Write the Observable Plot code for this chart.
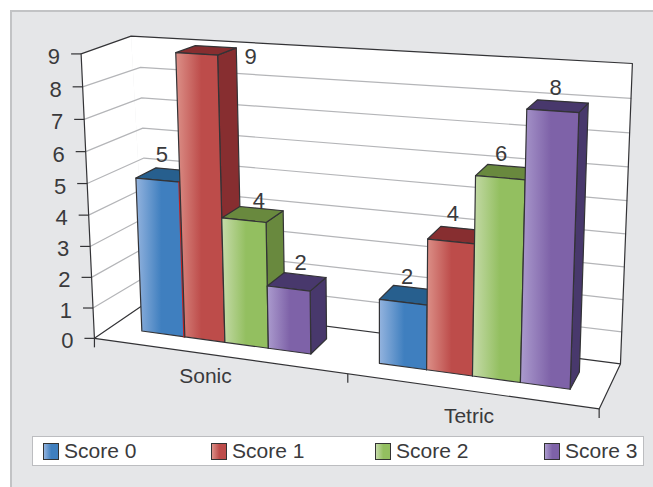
<!DOCTYPE html>
<html>
<head>
<meta charset="utf-8">
<script src="https://cdn.jsdelivr.net/npm/d3@7"></script>
<script src="https://cdn.jsdelivr.net/npm/@observablehq/plot@0.6"></script>
<style>
  html, body { margin: 0; background: #fff; }
  body { position: relative; width: 653px; height: 487px; overflow: hidden; font-family: "Liberation Sans", Arial, sans-serif; color: #3a3a3c; }
  #panel { position: absolute; left: 10px; top: 10px; right: 0; bottom: 0; background: #e5e6e8; border-left: 2px solid #c2c3c5; border-top: 2px solid #c2c3c5; }
  #chart { position: absolute; left: 0; top: 0; }
  #legend { position: absolute; left: 32px; top: 436px; width: 610px; height: 28px; background: #fff; border: 1.5px solid #bcbdc0; }
  .entry { position: absolute; top: 0; height: 28px; display: flex; align-items: center; font-size: 21px; white-space: pre; }
  .swatch { width: 14px; height: 15px; margin-right: 5px; border: 1px solid #333; }
</style>
</head>
<body>
<div id="panel"></div>
<div id="chart"></div>
<div id="legend"></div>
<script>
// Scores per group
const categories = ["Sonic", "Tetric"];
const seriesNames = ["Score 0", "Score 1", "Score 2", "Score 3"];
const score0 = [5, 2];
const score1 = [9, 4];
const score2 = [4, 6];
const score3 = [2, 8];
const valueTicks = [0, 1, 2, 3, 4, 5, 6, 7, 8, 9];

const seriesValues = [score0, score1, score2, score3];
const maxValue = 9;

// Series colours: front gradient [light, full], shaded top and side
const palette = [
  {id: "blue", light: "#93b3de", full: "#3f7fbf", dark: "#275f8e"},
  {id: "red", light: "#dc9088", full: "#bd4c4a", dark: "#872e30"},
  {id: "green", light: "#c6dbaa", full: "#93bf60", dark: "#69893e"},
  {id: "purple", light: "#ab9bce", full: "#7e62a8", dark: "#48386c"}
];

// Perspective camera of the 3-D box: u along the categories, v up the value axis, w into the depth
const cam = [430.52252, -16.92722, 61.7264, 93.9345, 19.97694, -286.82386, -14.24596, 337.85569, -0.12393, -0.04465, 0.06945];
function project(u, value, w) {
  const v = value / maxValue;
  const d = cam[8] * u + cam[9] * v + cam[10] * w + 1;
  return {
    x: (cam[0] * u + cam[1] * v + cam[2] * w + cam[3]) / d,
    y: (cam[4] * u + cam[5] * v + cam[6] * w + cam[7]) / d
  };
}

// Bar edges along the category axis and the bars' depth span
const barEdges = [[0.0697, 0.1658, 0.2533, 0.3461, 0.4347], [0.5737, 0.6666, 0.7546, 0.8445, 0.9355]];
const depthFront = 0.3116;
const depthBack = 0.7011;

// Where the rim and the gridlines turn from the side wall onto the back wall
const rimCorner = -0.011;
const gridCorner = 0.008;

// Shift of each value label from the top front centre of its bar
const labelShift = [
  [[4, -25], [54, 3], [15, -19], [12, -26]],
  [[4, -25], [2, -27], [1, -24], [3, -23]]
];

const face = (...corners) => corners.map(([u, v, w]) => project(u, v, w));

const wall = {fill: "#fff", stroke: "none", curve: "linear-closed", x: "x", y: "y"};
const edge = {stroke: "#333336", strokeWidth: 1.2, x: "x", y: "y"};

const frameMarks = [
  Plot.line(face([0, 0, 0], [0, maxValue, 0], [rimCorner, maxValue, 1], [0, 0, 1]), wall),
  Plot.line(face([0, 0, 1], [rimCorner, maxValue, 1], [1, maxValue, 1], [1, 0, 1]), wall),
  Plot.line(face([0, 0, 0], [0, 0, 1], [1, 0, 1], [1, 0, 0]), wall),
  ...valueTicks.filter((v) => v > 0 && v < maxValue).map((v) =>
    Plot.line(face([0, v, 0], [gridCorner, v, 1], [1, v, 1]), {x: "x", y: "y", stroke: "#b4b5b8", strokeWidth: 1.2})
  ),
  Plot.line(face([0, 0, 0], [0, maxValue, 0], [rimCorner, maxValue, 1], [1, maxValue, 1], [1, 0, 1], [1, 0, 0], [0, 0, 0], [0, 0, 1], [1, 0, 1]), edge)
];

const barMarks = [];
const labels = [];
categories.forEach((category, c) => {
  seriesValues.forEach((values, s) => {
    const value = values[c];
    const u0 = barEdges[c][s];
    const u1 = barEdges[c][s + 1];
    const look = palette[s];
    const outline = {x: "x", y: "y", stroke: "#333336", strokeWidth: 1.2, strokeLinejoin: "round", curve: "linear-closed"};
    // The tallest bar leaves a thin bright seam against its left neighbour
    if (c === 0 && s === 1) {
      barMarks.push(Plot.line(face([u0, score0[c], depthFront], [u0, 0, depthFront]), {x: "x", y: "y", dx: -1, stroke: "#c4201f", strokeWidth: 1.2}));
    }
    barMarks.push(
      Plot.line(face([u1, 0, depthFront], [u1, value, depthFront], [u1, value, depthBack], [u1, 0, depthBack]), {...outline, fill: look.dark}),
      Plot.line(face([u0, value, depthFront], [u0, value, depthBack], [u1, value, depthBack], [u1, value, depthFront]), {...outline, fill: look.dark}),
      Plot.line(face([u0, 0, depthFront], [u0, value, depthFront], [u1, value, depthFront], [u1, 0, depthFront]), {...outline, fill: `url(#grad-${look.id})`})
    );
    const top = project((u0 + u1) / 2, value, depthFront);
    labels.push({x: top.x + labelShift[c][s][0], y: top.y + labelShift[c][s][1], text: String(value)});
  });
});

// Value axis on the front left edge, category boundaries on the front floor edge
const axisPoints = valueTicks.map((v) => ({v, ...project(0, v, 0)}));
const boundaryPoints = [0, 0.535, 1].map((u) => project(u, 0, 0));
const categoryPoints = categories.map((name, i) => ({name, ...project(0.25 + i * 0.5, 0, 0), dx: [-3, 9][i], dy: [22, 27][i]}));

const gradients = () => {
  const defs = d3.create("svg:defs");
  palette.forEach((p) => {
    const g = defs.append("linearGradient").attr("id", `grad-${p.id}`).attr("x1", 0).attr("x2", 1).attr("y1", 0).attr("y2", 0);
    g.append("stop").attr("offset", "0%").attr("stop-color", p.light);
    g.append("stop").attr("offset", "52%").attr("stop-color", p.full);
    g.append("stop").attr("offset", "100%").attr("stop-color", p.full);
  });
  return defs.node();
};

const chart = Plot.plot({
  width: 653,
  height: 430,
  margin: 0,
  x: {domain: [0, 653], range: [0, 653], axis: null},
  y: {domain: [0, 430], range: [0, 430], axis: null},
  style: {background: "transparent", fontFamily: "'Liberation Sans', Arial, sans-serif", color: "#3a3a3c", overflow: "visible"},
  marks: [
    gradients,
    ...frameMarks,
    Plot.link(axisPoints, {x1: (d) => d.x - 10, y1: "y", x2: "x", y2: "y", stroke: "#333336", strokeWidth: 1.2}),
    Plot.link(boundaryPoints, {x1: "x", y1: "y", x2: "x", y2: (d) => d.y + 9, stroke: "#333336", strokeWidth: 1.2}),
    ...barMarks,
    Plot.text(axisPoints, {x: "x", y: "y", text: "v", dx: -21, dy: 3, textAnchor: "end", fontSize: 22, fill: "#3a3a3c"}),
    Plot.text(categoryPoints, {x: (d) => d.x + d.dx, y: (d) => d.y + d.dy, text: "name", fontSize: 21, fill: "#3a3a3c"}),
    Plot.text(labels, {x: "x", y: "y", text: "text", fontSize: 22, fill: "#3a3a3c"})
  ]
});
document.getElementById("chart").append(chart);

// Legend strip below the plot
const legendLefts = [10, 178, 342, 511];
const legend = d3.select("#legend");
seriesNames.forEach((name, i) => {
  const entry = legend.append("div").attr("class", "entry").style("left", `${legendLefts[i]}px`);
  entry.append("div").attr("class", "swatch")
    .style("background", `linear-gradient(90deg, ${palette[i].light}, ${palette[i].full} 52%, ${palette[i].full})`);
  entry.append("span").text(name);
});
</script>
</body>
</html>
